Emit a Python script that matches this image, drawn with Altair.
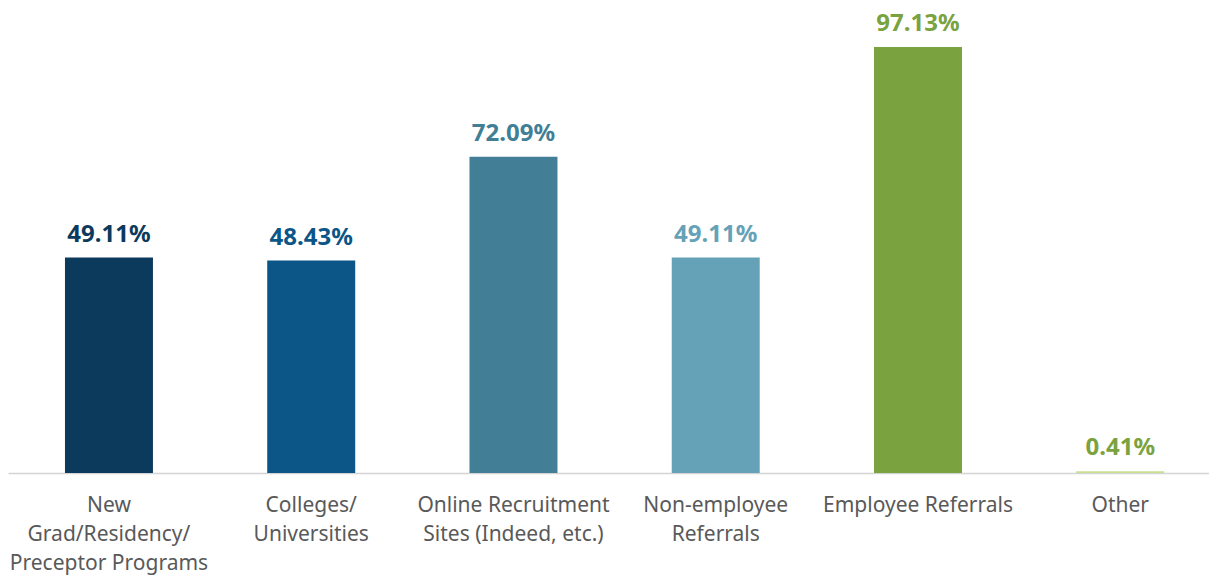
import altair as alt
import pandas as pd

categories = [
    "New|Grad/Residency/|Preceptor Programs",
    "Colleges/|Universities",
    "Online Recruitment|Sites (Indeed, etc.)",
    "Non-employee|Referrals",
    "Employee Referrals",
    "Other",
]
values = [49.11, 48.43, 72.09, 49.11, 97.13, 0.41]
bar_colors = ["#0b3a5c", "#0b5587", "#427f96", "#66a2b7", "#7aa23e", "#c8df8f"]
label_colors = ["#0b3a5c", "#0b5587", "#427f96", "#66a2b7", "#7aa23e", "#7aa23e"]

df = pd.DataFrame({
    "cat": categories,
    "value": values,
    "bar_color": bar_colors,
    "label_color": label_colors,
    "label": [f"{v:.2f}%" for v in values],
})

FONT = "Noto Sans"

x = alt.X(
    "cat:N",
    sort=categories,
    scale=alt.Scale(paddingInner=0.565, paddingOuter=0.2515, align=0.56),
    axis=alt.Axis(
        title=None,
        labelAngle=0,
        labelExpr="split(datum.label, '|')",
        labelFont=FONT,
        labelFontSize=21,
        labelLineHeight=29,
        labelColor="#595959",
        labelPadding=21,
        labelLimit=400,
        ticks=False,
        domainColor="#d4d4d4",
        domainWidth=1.5,
        grid=False,
    ),
)
y = alt.Y(
    "value:Q",
    scale=alt.Scale(domain=[0, 106], nice=False),
    axis=None,
)

bars = alt.Chart(df).mark_bar().encode(
    x=x,
    y=y,
    color=alt.Color("bar_color:N", scale=None),
)

labels = alt.Chart(df).mark_text(
    font=FONT, fontSize=24, fontWeight="bold", baseline="bottom", dy=-11
).encode(
    x=alt.X("cat:N", sort=categories),
    y=y,
    text="label:N",
    color=alt.Color("label_color:N", scale=None),
)

chart = (
    alt.layer(bars, labels)
    .properties(
        width=1201,
        height=465,
        padding={"left": 0, "top": 0, "right": 0, "bottom": 103},
        autosize=alt.AutoSizeParams(type="none"),
        background="white",
    )
    .configure_view(strokeWidth=0, stroke="transparent")
)

chart.save("out.html", embed_options={"renderer": "svg", "actions": False})
